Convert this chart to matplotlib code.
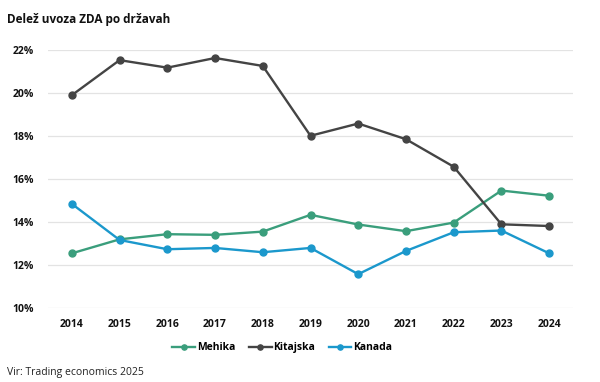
import matplotlib.pyplot as plt
from matplotlib.ticker import FuncFormatter

# data (share of US imports, %)
years = ["2014", "2015", "2016", "2017", "2018", "2019", "2020", "2021", "2022", "2023", "2024"]
mehika = [12.54, 13.19, 13.43, 13.40, 13.55, 14.33, 13.88, 13.57, 13.97, 15.46, 15.22]
kitajska = [19.90, 21.53, 21.18, 21.63, 21.26, 18.01, 18.58, 17.85, 16.57, 13.89, 13.81]
kanada = [14.84, 13.16, 12.73, 12.79, 12.59, 12.79, 11.57, 12.65, 13.52, 13.60, 12.54]

series = [
    ("Mehika", mehika, "#3a9e7c"),
    ("Kitajska", kitajska, "#444444"),
    ("Kanada", kanada, "#1b98cc"),
]

plt.rcParams["font.family"] = ["Open Sans", "DejaVu Sans"]


def main():
    fig = plt.figure(figsize=(6, 3.82), dpi=100)
    ax = fig.add_axes([0.08, 0.194, 0.875, 0.675])

    x = range(len(years))
    for name, values, color in series:
        ax.plot(x, values, color=color, lw=1.7, marker="o", markersize=5, label=name)

    ax.set_xlim(-0.5, len(years) - 0.5)
    ax.set_ylim(10, 22)
    ax.set_yticks(range(10, 23, 2))
    ax.yaxis.set_major_formatter(FuncFormatter(lambda v, _: f"{v:.0f}%"))
    ax.set_xticks(list(x))
    ax.set_xticklabels(years)

    ax.grid(axis="y", color="#e3e3e3", lw=0.9)
    ax.set_axisbelow(True)
    for s in ax.spines.values():
        s.set_visible(False)
    ax.tick_params(length=0, labelsize=7.5, colors="#111111", pad=8)
    ax.tick_params(axis="y", pad=10)
    for lbl in ax.get_xticklabels() + ax.get_yticklabels():
        lbl.set_fontweight("bold")

    # legend below the axis, a little left of centre like the original
    ax.legend(
        loc="center",
        bbox_to_anchor=(0.446, -0.155),
        ncol=3,
        frameon=False,
        handlelength=2.2,
        handletextpad=0.15,
        columnspacing=1.3,
        markerscale=0.75,
        prop={"weight": "bold", "size": 7.5},
    )

    fig.text(0.012, 0.965, "Delež uvoza ZDA po državah", fontsize=8.5, fontweight="bold",
             color="#111111", va="top")
    fig.text(0.012, 0.018, "Vir: Trading economics 2025", fontsize=7.5, color="#222222")

    fig.savefig("out.png", dpi=100)


if __name__ == "__main__":
    main()
